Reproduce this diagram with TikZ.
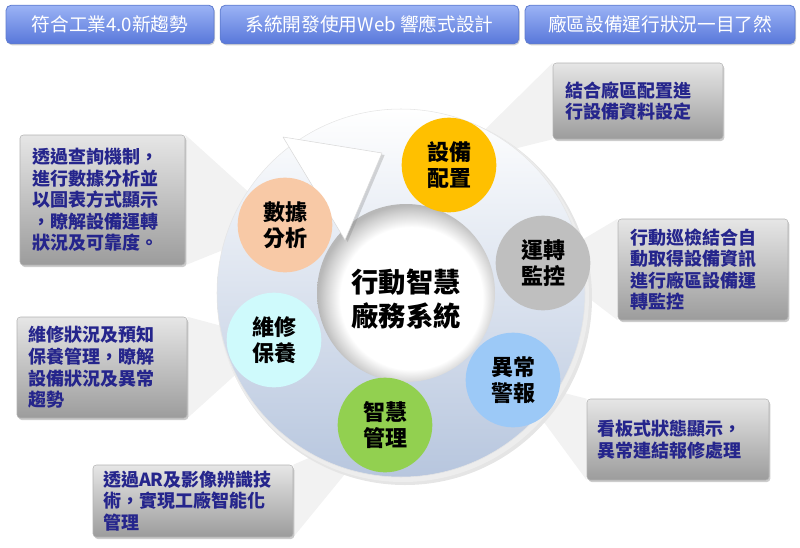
\documentclass[tikz,border=0pt]{standalone}
\usepackage{fontspec}
\setmainfont{Noto Sans CJK TC}
\usetikzlibrary{shadows,backgrounds,calc}
\definecolor{navytxt}{HTML}{25258C}
\definecolor{bartop}{HTML}{9BB3F5}
\definecolor{barbot}{HTML}{5877DA}
\definecolor{bardraw}{HTML}{5F7CCF}
\definecolor{boxtop}{HTML}{E6E6E6}
\definecolor{boxbot}{HTML}{9C9C9C}
\definecolor{ringbot}{HTML}{B7C6DE}
\definecolor{cOrange}{HTML}{FFC000}
\definecolor{cGray}{HTML}{BFBFBF}
\definecolor{cBlue}{HTML}{9CC9F7}
\definecolor{cGreen}{HTML}{92D050}
\definecolor{cCyan}{HTML}{CFFAFC}
\definecolor{cPeach}{HTML}{F8C9A6}
\pgfdeclareradialshading{holeshade}{\pgfpoint{2.5bp}{-2.5bp}}{color(0bp)=(white); color(20bp)=(white); color(24bp)=(black!18); color(26bp)=(black!28); color(50bp)=(black!28)}
\tikzset{
  topbar/.style={rectangle, rounded corners=4pt, top color=bartop, bottom color=barbot,
    draw=bardraw, line width=0.6pt, text=white, minimum height=29pt, inner sep=0pt,
    font=\fontsize{14}{16}\selectfont, drop shadow={opacity=0.35, shadow xshift=0.8pt, shadow yshift=-1.2pt}},
  tbox/.style={rectangle, rounded corners=2.5pt, top color=boxtop, bottom color=boxbot,
    draw=black!30, line width=0.4pt, text=navytxt, align=left, inner ysep=0pt,
    font=\bfseries\fontsize{13.5}{16.2}\selectfont,
    drop shadow={opacity=0.4, shadow xshift=1pt, shadow yshift=-1.5pt}},
  bub/.style={circle, minimum size=71pt, inner sep=0pt, align=center,
    font=\bfseries\fontsize{16.5}{19.5}\selectfont},
  wedge/.style={fill=black!5},
}
\begin{document}
\begin{tikzpicture}[x=0.75pt,y=-0.75pt]
\useasboundingbox (0,0) rectangle (800,547);
% top bars
\node[topbar, minimum width=156pt] (b1) at (110,24.5) {符合工業4.0新趨勢};
\node[topbar, minimum width=224pt] (b2) at (369.5,24.5) {系統開發使用Web 響應式設計};
\node[topbar, minimum width=202.5pt] (b3) at (660,24.5) {廠區設備運行狀況一目了然};
% ring
\coordinate (rc) at (401,293);
\coordinate (hc) at (406,293);
\fill[black!10] ($(rc)+(4,5)$) circle (187);
\fill[black!7] ($(rc)+(2,3)$) circle (186);
\shade[top color=white, bottom color=ringbot, draw=black!10] (rc) circle (184);
\shade[shading=holeshade] (hc) circle (89);
% arrow head
\coordinate (a1) at (283,137);
\coordinate (a2) at (382,153);
\coordinate (a3) at (345,240);
\filldraw[fill=white, draw=black!15, line join=round,
  drop shadow={opacity=0.3, shadow xshift=2pt, shadow yshift=-1.5pt}] (a1) -- (a2) -- (a3) -- cycle;
% center text
\node[font=\bfseries\fontsize{20.5}{26}\selectfont, align=center] (ctr) at (406,299) {行動智慧\\廠務系統};
% bubbles
\node[bub, fill=cOrange] (c1) at (449,165) {設備\\配置};
\node[bub, fill=cGray]   (c2) at (543,263) {運轉\\監控};
\node[bub, fill=cBlue]   (c3) at (513,380) {異常\\警報};
\node[bub, fill=cGreen]  (c4) at (385,425) {智慧\\管理};
\node[bub, fill=cCyan]   (c5) at (274,340) {維修\\保養};
\node[bub, fill=cPeach]  (c6) at (285,225) {數據\\分析};
% text boxes
\node[tbox, inner xsep=9pt, text width=109.5pt, minimum height=57pt] (tA) at (638,101)
  {結合廠區配置進\\行設備資料設定};
\node[tbox, inner xsep=9pt, text width=109.5pt, minimum height=75.75pt] (tB) at (703,269.5)
  {行動巡檢結合自\\動取得設備資訊\\進行廠區設備運\\轉監控};
\node[tbox, inner xsep=7.5pt, text width=121.5pt, minimum height=60.75pt] (tC) at (678,439.5)
  {看板式狀態顯示，\\異常連結報修處理};
\node[tbox, inner xsep=9pt, text width=105.75pt, minimum height=97.5pt] (tD) at (102.5,200)
  {透過查詢機制，\\進行數據分析並\\以圖表方式顯示\\，瞭解設備運轉\\狀況及可靠度。};
\node[tbox, inner xsep=8.25pt, text width=111pt, minimum height=75.75pt] (tE) at (102,367.5)
  {維修狀況及預知\\保養管理，瞭解\\設備狀況及異常\\趨勢};
\node[tbox, inner xsep=7.5pt, text width=135pt, minimum height=54pt] (tF) at (193,501)
  {透過AR及影像辨識技\\術，實現工廠智能化\\管理};
% light beams
\begin{scope}[on background layer]
  \fill[wedge] (c1.center) -- (tA.north west) -- (tA.south west) -- cycle;
  \fill[wedge] (c2.center) -- (tB.north west) -- (tB.south west) -- cycle;
  \fill[wedge] (c3.center) -- (tC.north west) -- (tC.south west) -- cycle;
  \fill[wedge] (c6.center) -- (tD.north east) -- (tD.south east) -- cycle;
  \fill[wedge] (c5.center) -- (tE.north east) -- (tE.south east) -- cycle;
  \fill[wedge] (c4.center) -- (tF.north east) -- (tF.south east) -- cycle;
\end{scope}
\end{tikzpicture}
\end{document}
